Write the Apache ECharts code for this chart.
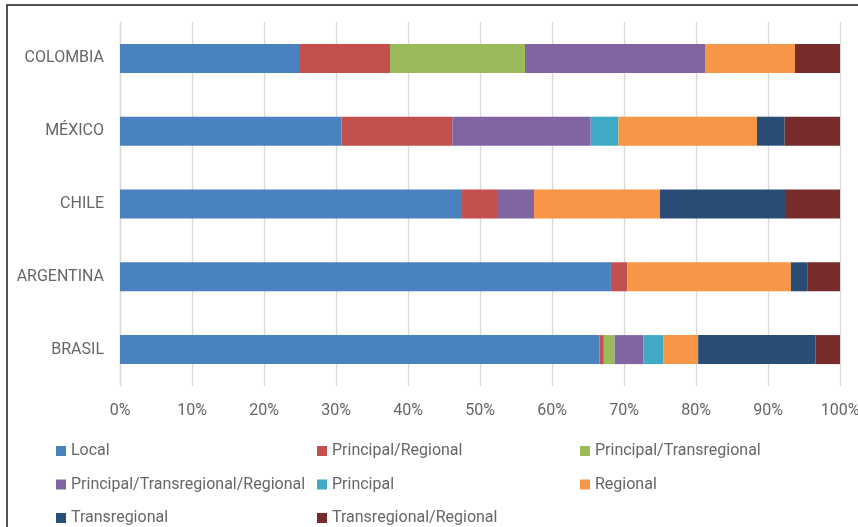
<!DOCTYPE html>
<html>
<head>
<meta charset="utf-8">
<script src="https://cdn.jsdelivr.net/npm/echarts@6/dist/echarts.min.js"></script>
<style>
html,body{margin:0;padding:0;background:#fff;}
#c{width:858px;height:527px;}
</style>
</head>
<body>
<div id="c"></div>
<script>
const categories = ['COLOMBIA', 'MÉXICO', 'CHILE', 'ARGENTINA', 'BRASIL'];
const seriesNames = ['Local', 'Principal/Regional', 'Principal/Transregional', 'Principal/Transregional/Regional', 'Principal', 'Regional', 'Transregional', 'Transregional/Regional'];
const local = [25.0, 30.77, 47.5, 68.18, 66.6];
const principalRegional = [12.5, 15.38, 5.0, 2.27, 0.6];
const principalTransregional = [18.75, 0, 0, 0, 1.5];
const principalTransregionalRegional = [25.0, 19.23, 5.0, 0, 4.0];
const principal = [0, 3.85, 0, 0, 2.8];
const regional = [12.5, 19.23, 17.5, 22.73, 4.8];
const transregional = [0, 3.85, 17.5, 2.27, 16.3];
const transregionalRegional = [6.25, 7.69, 7.5, 4.55, 3.4];
const xTicks = [0, 10, 20, 30, 40, 50, 60, 70, 80, 90, 100];

const values = [local, principalRegional, principalTransregional, principalTransregionalRegional, principal, regional, transregional, transregionalRegional];
const colors = ['#4A81BF', '#C3504D', '#9BBA59', '#8065A2', '#40AAC6', '#F79646', '#294E76', '#772B2B'];

const textColor = '#666666';
const font = 'Roboto';

const chart = echarts.init(document.getElementById('c'), null, {renderer: 'canvas'});

const series = seriesNames.map((n, i) => ({
  name: n,
  type: 'bar',
  stack: 'total',
  barWidth: 29,
  data: values[i],
  itemStyle: {color: colors[i]},
  emphasis: {disabled: true}
}));

function legend(left, names) {
  return {
    orient: 'vertical',
    left: left,
    top: 441,
    width: 300,
    height: 120,
    padding: 0,
    itemWidth: 10,
    itemHeight: 10,
    itemGap: 13.5,
    icon: 'rect',
    selectedMode: false,
    data: names,
    textStyle: {color: textColor, fontFamily: font, fontSize: 16, lineHeight: 20, padding: [0, 0, 0, 0]}
  };
}

chart.setOption({
  animation: false,
  color: colors,
  grid: {left: 120, right: 18, top: 22, bottom: 141, containLabel: false, outerBoundsMode: 'none'},
  xAxis: {
    type: 'value',
    min: xTicks[0],
    max: xTicks[xTicks.length - 1],
    interval: 10,
    axisLine: {show: false},
    axisTick: {show: false},
    splitLine: {show: true, lineStyle: {color: '#d9d9d9', width: 1.3}},
    axisLabel: {
      color: textColor, fontFamily: font, fontSize: 16, margin: 17,
      formatter: v => v + '%'
    }
  },
  yAxis: {
    type: 'category',
    data: categories,
    inverse: true,
    axisLine: {show: true, lineStyle: {color: '#d9d9d9', width: 1.3}},
    axisTick: {show: false},
    axisLabel: {color: textColor, fontFamily: font, fontSize: 16, margin: 16}
  },
  legend: [
    legend(56, [seriesNames[0], seriesNames[3], seriesNames[6]]),
    legend(317, [seriesNames[1], seriesNames[4], seriesNames[7]]),
    legend(580, [seriesNames[2], seriesNames[5]])
  ],
  graphic: [{
    type: 'rect',
    shape: {x: 7, y: 5, width: 1000, height: 1000},
    style: {fill: 'none', stroke: '#1a1a1a', lineWidth: 1.5},
    silent: true,
    z: 100
  }],
  series: series
});
</script>
</body>
</html>
